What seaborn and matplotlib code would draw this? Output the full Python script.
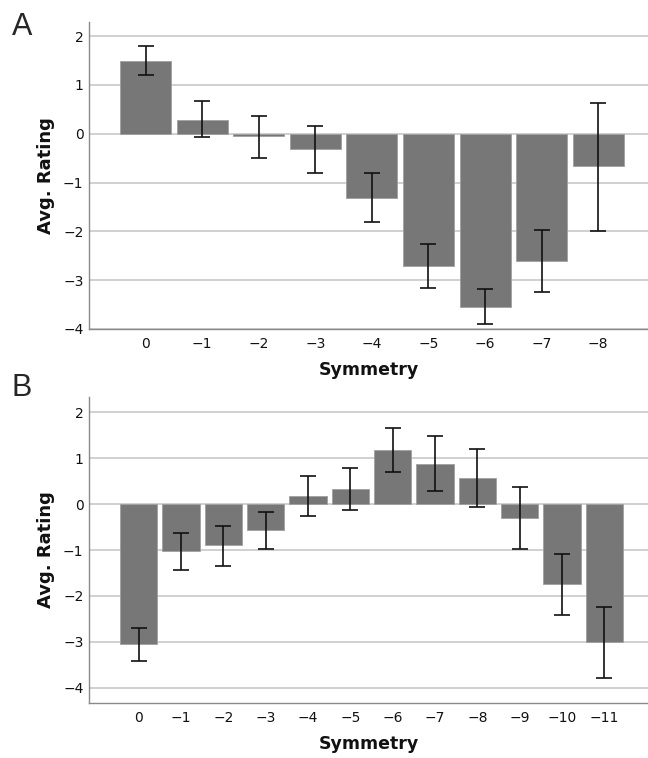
import numpy as np
import pandas as pd
import matplotlib
matplotlib.use("Agg")
import matplotlib.pyplot as plt
import seaborn as sns

# Panel A data
a_labels = ["0", "\u22121", "\u22122", "\u22123", "\u22124", "\u22125", "\u22126", "\u22127", "\u22128"]
a_mean = [1.49, 0.29, -0.05, -0.32, -1.31, -2.70, -3.54, -2.60, -0.67]
a_low = [1.20, -0.07, -0.50, -0.80, -1.81, -3.17, -3.89, -3.24, -1.99]
a_high = [1.79, 0.68, 0.37, 0.15, -0.81, -2.26, -3.19, -1.97, 0.64]

# Panel B data
b_labels = ["0", "\u22121", "\u22122", "\u22123", "\u22124", "\u22125", "\u22126", "\u22127", "\u22128",
            "\u22129", "\u221210", "\u221211"]
b_mean = [-3.05, -1.03, -0.90, -0.565, 0.18, 0.33, 1.17, 0.88, 0.57, -0.30, -1.75, -3.01]
b_low = [-3.42, -1.44, -1.34, -0.98, -0.25, -0.12, 0.70, 0.275, -0.06, -0.985, -2.42, -3.79]
b_high = [-2.70, -0.63, -0.47, -0.17, 0.61, 0.775, 1.65, 1.48, 1.20, 0.37, -1.08, -2.25]

yticks = [2, 1, 0, -1, -2, -3, -4]

sns.set_theme(style="white")
plt.rcParams['font.family'] = ['DejaVu Sans']

W, H = 648, 758
fig = plt.figure(figsize=(W/100, H/100), dpi=100)
axA = fig.add_axes([89/W, 1-329/H, 1-89/W, (329-22)/H])
axB = fig.add_axes([89/W, 1-703/H, 1-89/W, (703-397)/H])

bar_color = "#777777"

def draw(ax, labels, mean, low, high, width, ylim, xlim):
    df = pd.DataFrame({"Symmetry": labels, "Avg": mean})
    sns.barplot(data=df, x="Symmetry", y="Avg", order=labels, color=bar_color,
                saturation=1, width=width, errorbar=None, ax=ax, zorder=3,
                edgecolor="#a0a0a0", linewidth=0.6)
    xs = np.arange(len(labels))
    m = np.array(mean)
    yerr = np.vstack([m - np.array(low), np.array(high) - m])
    ax.errorbar(xs, m, yerr=yerr, fmt="none", ecolor="#111111", elinewidth=1.2,
                capsize=5.5, capthick=1.2, zorder=4)
    ax.set_ylim(*ylim)
    ax.set_xlim(*xlim)
    ax.set_yticks(yticks)
    ax.set_yticklabels([str(t).replace("-", "\u2212") for t in yticks], fontsize=10)
    ax.tick_params(axis="x", labelsize=10, length=0, pad=6, colors="#111111")
    ax.tick_params(axis="y", length=0, pad=4, colors="#111111")
    ax.yaxis.grid(True, color="#c8c8c8", linewidth=1.2, zorder=0)
    ax.set_axisbelow(True)
    for s in ["top", "right"]:
        ax.spines[s].set_visible(False)
    for s in ["left", "bottom"]:
        ax.spines[s].set_color("#8a8a8a")
        ax.spines[s].set_linewidth(1.0)
    ax.set_xlabel("Symmetry", fontsize=12.5, fontweight="bold", labelpad=7, color="#111111")
    ax.set_ylabel("Avg. Rating", fontsize=13, fontweight="bold", labelpad=6, color="#111111")

draw(axA, a_labels, a_mean, a_low, a_high, 0.9, (-4, 2.29), (-1.0, 8.88))
draw(axB, b_labels, b_mean, b_low, b_high, 0.88, (-4.33, 2.33), (-1.17, 12.03))

fig.text(12/W, 1-27/H, "A", fontsize=22, va="center", ha="left", family=["Liberation Sans"])
fig.text(12/W, 1-388/H, "B", fontsize=22, va="center", ha="left", family=["Liberation Sans"])

fig.savefig("out.png", dpi=100)
